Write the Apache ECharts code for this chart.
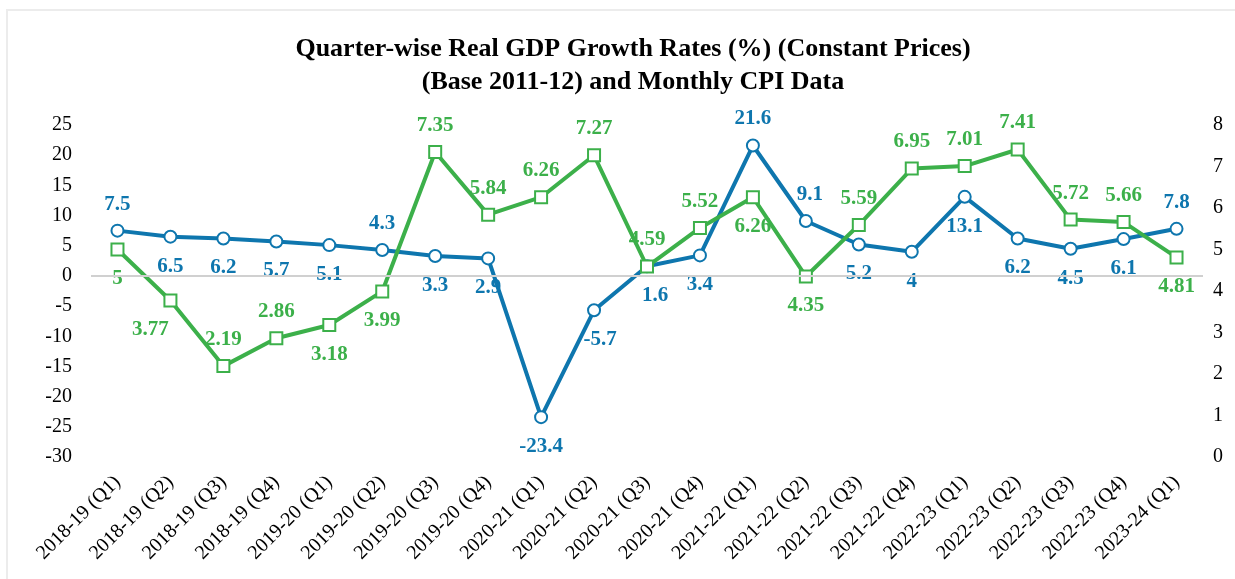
<!DOCTYPE html>
<html>
<head>
<meta charset="utf-8">
<script src="https://cdn.jsdelivr.net/npm/echarts@6/dist/echarts.min.js"></script>
<style>
  html, body { margin: 0; padding: 0; background: #fff; }
  #chart { width: 1235px; height: 579px; }
</style>
</head>
<body>
<div id="chart"></div>
<script>
  // categories and values
  const quarters = [
    '2018-19 (Q1)', '2018-19 (Q2)', '2018-19 (Q3)', '2018-19 (Q4)',
    '2019-20 (Q1)', '2019-20 (Q2)', '2019-20 (Q3)', '2019-20 (Q4)',
    '2020-21 (Q1)', '2020-21 (Q2)', '2020-21 (Q3)', '2020-21 (Q4)',
    '2021-22 (Q1)', '2021-22 (Q2)', '2021-22 (Q3)', '2021-22 (Q4)',
    '2022-23 (Q1)', '2022-23 (Q2)', '2022-23 (Q3)', '2022-23 (Q4)',
    '2023-24 (Q1)',
  ]
  const gdpGrowth = [7.5, 6.5, 6.2, 5.7, 5.1, 4.3, 3.3, 2.9, -23.4, -5.7, 1.6, 3.4, 21.6, 9.1, 5.2, 4, 13.1, 6.2, 4.5, 6.1, 7.8]
  const cpi = [5, 3.77, 2.19, 2.86, 3.18, 3.99, 7.35, 5.84, 6.26, 7.27, 4.59, 5.52, 6.26, 4.35, 5.59, 6.95, 7.01, 7.41, 5.72, 5.66, 4.81]
  // label side for each point (t = above, b = below)
  const gdpLabelSide = ['t', 'b', 'b', 'b', 'b', 't', 'b', 'b', 'b', 'b', 'b', 'b', 't', 't', 'b', 'b', 'b', 'b', 'b', 'b', 't']
  const cpiLabelSide = ['b', 'b', 't', 't', 'b', 'b', 't', 't', 't', 't', 't', 't', 'b', 'b', 't', 't', 't', 't', 't', 't', 'b']

  const BLUE = '#0e76ae'
  const GREEN = '#3cb04a'
  const FONT = '"Liberation Serif", "Times New Roman", serif'

  function withLabels(values, sides, offsets) {
    return values.map((v, i) => ({
      value: v,
      label: {
        position: sides[i] === 't' ? 'top' : 'bottom',
        distance: sides[i] === 't' ? 9 : 12,
        offset: offsets[i] || [0, 0],
      },
    }))
  }

  const gdpOffsets = { 9: [6, 0], 10: [8, 0], 13: [4, 0] }
  const cpiOffsets = { 1: [-20, 0] }

  const chart = echarts.init(document.getElementById('chart'))
  chart.setOption({
    backgroundColor: '#fff',
    textStyle: { fontFamily: FONT },
    graphic: [
      {
        type: 'rect',
        shape: { x: 7, y: 10, width: 1240, height: 580 },
        style: { fill: 'none', stroke: '#ececec', lineWidth: 2 },
        silent: true,
      },
    ],
    title: {
      text: 'Quarter-wise Real GDP Growth Rates (%) (Constant Prices)\n(Base 2011-12) and Monthly CPI Data',
      left: 628,
      top: 28,
      textAlign: 'center',
      textStyle: {
        fontFamily: FONT,
        fontSize: 26,
        fontWeight: 'bold',
        color: '#000',
        lineHeight: 33,
      },
    },
    grid: {
      left: 91,
      right: 32,
      top: 125,
      bottom: 122,
    },
    xAxis: {
      type: 'category',
      data: quarters,
      boundaryGap: true,
      axisLine: { show: false },
      axisTick: { show: false },
      axisLabel: {
        interval: 0,
        rotate: 45,
        margin: 22,
        fontFamily: FONT,
        fontSize: 20,
        color: '#000',
      },
    },
    yAxis: [
      {
        type: 'value',
        min: -30,
        max: 25,
        interval: 5,
        splitLine: { show: false },
        axisLine: { show: false },
        axisTick: { show: false },
        axisLabel: {
          margin: 19,
          fontFamily: FONT,
          fontSize: 20,
          color: '#000',
        },
      },
      {
        type: 'value',
        min: 0,
        max: 8,
        interval: 1,
        position: 'right',
        splitLine: { show: false },
        axisLine: { show: false },
        axisTick: { show: false },
        axisLabel: {
          margin: 10,
          fontFamily: FONT,
          fontSize: 20,
          color: '#000',
        },
      },
    ],
    series: [
      {
        name: 'GDP',
        type: 'line',
        yAxisIndex: 0,
        data: withLabels(gdpGrowth, gdpLabelSide, gdpOffsets),
        symbol: 'circle',
        symbolSize: 12,
        lineStyle: { color: BLUE, width: 4 },
        itemStyle: { color: '#fff', borderColor: BLUE, borderWidth: 2 },
        label: {
          show: true,
          fontFamily: FONT,
          fontSize: 21,
          fontWeight: 'bold',
          color: BLUE,
        },
        markLine: {
          silent: true,
          symbol: 'none',
          label: { show: false },
          lineStyle: { color: '#d0d0d0', width: 2, type: 'solid' },
          data: [{ yAxis: 0 }],
        },
        z: 3,
      },
      {
        name: 'CPI',
        type: 'line',
        yAxisIndex: 1,
        data: withLabels(cpi, cpiLabelSide, cpiOffsets),
        symbol: 'rect',
        symbolSize: 12,
        lineStyle: { color: GREEN, width: 4 },
        itemStyle: { color: '#fff', borderColor: GREEN, borderWidth: 2 },
        label: {
          show: true,
          fontFamily: FONT,
          fontSize: 21,
          fontWeight: 'bold',
          color: GREEN,
        },
        z: 4,
      },
    ],
  })
</script>
</body>
</html>
